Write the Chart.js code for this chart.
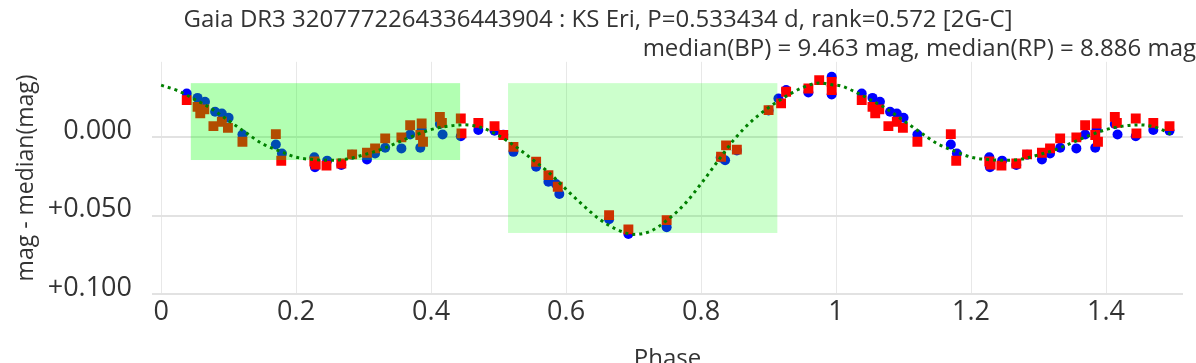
<!DOCTYPE html>
<html>
<head>
<meta charset="utf-8">
<script src="https://cdn.jsdelivr.net/npm/chart.js@4.4.1/dist/chart.umd.min.js"></script>
<style>
  html, body { margin: 0; padding: 0; background: #fff; }
  #wrap { width: 1196px; height: 363px; position: relative; }
</style>
</head>
<body>
<div id="wrap"><canvas id="lc"></canvas></div>
<script>
// phase-folded photometry, mag - median(mag)
var bpPhase = [0.038, 0.054, 0.065, 0.080, 0.090, 0.100, 0.1205, 0.170, 0.179, 0.227, 0.228, 0.246, 0.267, 0.283,
  0.305, 0.317, 0.332, 0.356, 0.369, 0.384, 0.386, 0.413, 0.417, 0.444, 0.470, 0.494,
  0.507, 0.522, 0.5556, 0.5738, 0.585, 0.590, 0.6637, 0.6923, 0.749, 0.829, 0.8356, 0.853,
  0.900, 0.9146, 0.926, 0.959, 0.9935, 0.9935];
var bpMag = [-0.0278, -0.0250, -0.0225, -0.0162, -0.0151, -0.0123, -0.0017, 0.0047, 0.0104, 0.0128, 0.0192, 0.0150, 0.0178, 0.0112,
  0.0142, 0.0104, 0.0068, 0.0072, -0.0017, 0.0068, -0.0049, -0.0083, -0.0017, -0.0006, -0.0045, -0.0040,
  -0.0015, 0.0094, 0.0189, 0.0285, 0.0299, 0.0363, 0.0524, 0.0618, 0.0575, 0.0130, 0.0147, 0.0085,
  -0.0170, -0.0246, -0.0300, -0.0285, -0.0384, -0.0272];

var rpPhase = [0.038, 0.054, 0.058, 0.064, 0.0775, 0.090, 0.099, 0.1205, 0.170, 0.178, 0.227, 0.229, 0.245, 0.267,
  0.283, 0.305, 0.317, 0.332, 0.356, 0.369, 0.384, 0.386, 0.388, 0.413, 0.416, 0.444, 0.445, 0.470, 0.494,
  0.507, 0.522, 0.5556, 0.5738, 0.5877, 0.6637, 0.6923, 0.749, 0.8296, 0.837, 0.853,
  0.900, 0.9185, 0.926, 0.959, 0.975, 0.9935, 0.9935];
var rpMag = [-0.0236, -0.0193, -0.0151, -0.0177, -0.0070, -0.0098, -0.0059, 0.0030, -0.0019, 0.0151, 0.0155, 0.0175, 0.0182, 0.0168,
  0.0110, 0.0100, 0.0072, 0.0008, 0.0002, -0.0076, -0.0013, -0.0087, 0.0030, -0.0129, -0.0091, -0.0119, -0.0024, -0.0091, -0.0070,
  -0.0013, 0.0062, 0.0157, 0.0242, 0.0316, 0.0497, 0.0588, 0.0529, 0.0125, 0.0053, 0.0080,
  -0.0172, -0.0215, -0.0289, -0.0310, -0.0363, -0.0352, -0.0300];

// model curve
var modelPhase = [0, 0.025, 0.05, 0.075, 0.1, 0.125, 0.15, 0.175, 0.2, 0.225, 0.25, 0.275, 0.3, 0.325, 0.35, 0.375,
  0.4, 0.425, 0.45, 0.475, 0.5, 0.525, 0.55, 0.575, 0.6, 0.625, 0.65, 0.675, 0.7, 0.725, 0.75, 0.775,
  0.8, 0.825, 0.85, 0.875, 0.9, 0.925, 0.95, 0.975];
var modelMag = [-0.0331, -0.0295, -0.0240, -0.0180, -0.0105, -0.0030, 0.0042, 0.0088, 0.0128, 0.0143, 0.0148, 0.0140,
  0.0113, 0.0080, 0.0035, -0.0010, -0.0048, -0.0070, -0.0078, -0.0060, -0.0010, 0.0060, 0.0142, 0.0228,
  0.0333, 0.0434, 0.0525, 0.0588, 0.0620, 0.0600, 0.0528, 0.0430, 0.0297, 0.0152, 0.0010, -0.0102,
  -0.0188, -0.0258, -0.0315, -0.0345];

// shaded phase windows
var winStart = [0.044, 0.514];
var winEnd = [0.443, 0.913];
var winTop = [-0.0344, -0.0344];
var winBottom = [0.0146, 0.0611];
var winFill = ['rgba(0,255,0,0.3)', 'rgba(0,255,0,0.2)'];

var xTicks = [0, 0.2, 0.4, 0.6, 0.8, 1, 1.2, 1.4];
var yTicks = [0, 0.05, 0.1];

var FONT = '"Open Sans", "Noto Sans", sans-serif';
var TXT = '#333';

function fold(ph, mg) {
  var pts = ph.map(function (p, i) { return {x: p, y: mg[i]}; });
  ph.forEach(function (p, i) { if (p <= 0.5) pts.push({x: p + 1, y: mg[i]}); });
  return pts;
}

var modelPts = fold(modelPhase, modelMag);
modelPts.push({x: 1, y: modelMag[0]});
modelPts.sort(function (a, b) { return a.x - b.x; });

var windows = {
  id: 'windows',
  afterDatasetDraw: function (chart, args) {
    if (args.index !== 1) return;
    var ctx = chart.ctx, x = chart.scales.x, y = chart.scales.y;
    ctx.save();
    for (var i = 0; i < winStart.length; i++) {
      var x0 = x.getPixelForValue(winStart[i]), x1 = x.getPixelForValue(winEnd[i]);
      var y0 = y.getPixelForValue(winTop[i]), y1 = y.getPixelForValue(winBottom[i]);
      ctx.fillStyle = winFill[i];
      ctx.fillRect(x0, y0, x1 - x0, y1 - y0);
    }
    ctx.restore();
  }
};

new Chart(document.getElementById('lc'), {
  type: 'scatter',
  data: {
    datasets: [
      {
        label: 'BP',
        data: fold(bpPhase, bpMag),
        backgroundColor: '#0000ff',
        borderWidth: 0,
        pointStyle: 'circle',
        pointRadius: 5,
        order: 3
      },
      {
        label: 'RP',
        data: fold(rpPhase, rpMag),
        backgroundColor: '#ff0000',
        borderWidth: 0,
        pointStyle: 'rect',
        pointRadius: 7,
        order: 2
      },
      {
        type: 'line',
        label: 'model',
        data: modelPts,
        borderColor: '#008000',
        borderWidth: 3,
        borderDash: [3, 4],
        pointRadius: 0,
        fill: false,
        cubicInterpolationMode: 'monotone',
        order: 1
      }
    ]
  },
  options: {
    responsive: true,
    maintainAspectRatio: false,
    animation: false,
    events: [],
    layout: { padding: 0 },
    plugins: {
      legend: { display: false },
      tooltip: { enabled: false },
      title: {
        display: true,
        text: 'Gaia DR3 3207772264336443904 : KS Eri, P=0.533434 d, rank=0.572 [2G-C]',
        color: TXT,
        font: { family: FONT, size: 24, weight: 'normal', lineHeight: 1.1 },
        padding: { top: 7, bottom: 0 }
      },
      subtitle: {
        display: true,
        text: 'median(BP) = 9.463 mag, median(RP) = 8.886 mag',
        align: 'end',
        color: TXT,
        font: { family: FONT, size: 24, weight: 'normal', lineHeight: 1.1 },
        padding: { top: 3, bottom: -1 }
      }
    },
    scales: {
      x: {
        type: 'linear',
        min: -0.0135,
        max: 1.514,
        border: { display: false },
        grid: { color: '#e8e8e8', lineWidth: 1, drawTicks: false },
        afterBuildTicks: function (s) { s.ticks = xTicks.map(function (v) { return {value: v}; }); },
        afterFit: function (s) { s.height = 69; },
        ticks: {
          color: TXT,
          font: { family: FONT, size: 27 },
          padding: 2,
          maxRotation: 0,
          callback: function (v) { return String(+v.toFixed(1)); }
        },
        title: {
          display: true,
          text: 'Phase',
          color: TXT,
          font: { family: FONT, size: 24 },
          padding: { top: 0, bottom: -11 }
        }
      },
      y: {
        type: 'linear',
        reverse: true,
        min: -0.048,
        max: 0.1,
        border: { display: false },
        grid: { color: '#e2e2e2', lineWidth: 2, drawTicks: false },
        afterBuildTicks: function (s) { s.ticks = yTicks.map(function (v) { return {value: v}; }); },
        afterFit: function (s) { s.width = 152; },
        ticks: {
          color: TXT,
          font: { family: FONT, size: 27 },
          padding: 20,
          labelOffset: -6,
          callback: function (v) { return v === 0 ? '0.000' : '+' + v.toFixed(3); }
        },
        title: {
          display: true,
          text: 'mag - median(mag)',
          color: TXT,
          font: { family: FONT, size: 23 },
          padding: { top: 13, bottom: 0 }
        }
      },
      y2: {
        type: 'linear',
        position: 'right',
        display: true,
        border: { display: false },
        grid: { display: false },
        ticks: { display: false },
        afterFit: function (s) { s.width = 13; }
      }
    }
  },
  plugins: [windows]
});
</script>
</body>
</html>
